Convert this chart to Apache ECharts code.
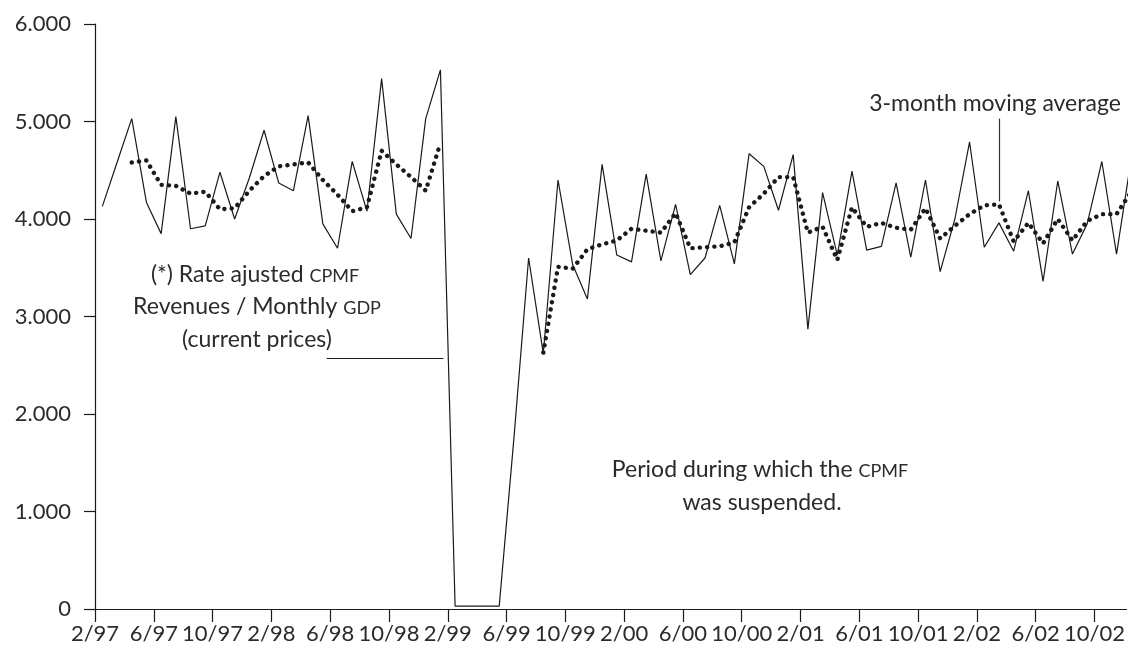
<!DOCTYPE html>
<html>
<head>
<meta charset="utf-8">
<script src="https://cdn.jsdelivr.net/npm/echarts@6/dist/echarts.min.js"></script>
<style>
  html, body { margin: 0; padding: 0; background: #fff; }
  #cpmfChart { width: 1128px; height: 653px; }
</style>
</head>
<body>
<div id="cpmfChart"></div>
<script type="text/javascript">
  // monthly values from 2/97 (index 0) to 12/02 (index 70)
  var ratio = [
    4.13, 4.58, 5.03, 4.17, 3.85, 5.05, 3.90, 3.93, 4.48, 4.00, 4.42, 4.91,
    4.37, 4.29, 5.06, 3.95, 3.70, 4.59, 4.08, 5.44, 4.05, 3.80, 5.03, 5.53,
    0.03, 0.03, 0.03, 0.03, 1.75, 3.60, 2.62, 4.40, 3.53, 3.18, 4.56, 3.63,
    3.56, 4.46, 3.57, 4.15, 3.43, 3.60, 4.14, 3.54, 4.67, 4.54, 4.09, 4.66,
    2.87, 4.27, 3.63, 4.49, 3.68, 3.72, 4.37, 3.61, 4.40, 3.46, 4.00, 4.79,
    3.71, 3.96, 3.67, 4.29, 3.36, 4.39, 3.64, 3.95, 4.59, 3.64, 4.62
  ];
  // 3-month moving average (null where not shown)
  var movingAvg = [
    null, null, 4.58, 4.60, 4.35, 4.34, 4.26, 4.28, 4.10, 4.11, 4.29, 4.44,
    4.54, 4.56, 4.58, 4.40, 4.25, 4.08, 4.12, 4.70, 4.56, 4.43, 4.29, 4.78,
    null, null, null, null, null, null, 2.63, 3.51, 3.49, 3.69, 3.74, 3.78,
    3.90, 3.88, 3.86, 4.06, 3.70, 3.71, 3.72, 3.76, 4.12, 4.26, 4.43, 4.43,
    3.86, 3.92, 3.58, 4.12, 3.92, 3.96, 3.91, 3.89, 4.11, 3.80, 3.93, 4.05,
    4.14, 4.15, 3.77, 3.96, 3.75, 4.00, 3.78, 3.98, 4.05, 4.05, 4.28
  ];
  var yTicks = [0, 1, 2, 3, 4, 5, 6];
  var firstMonth = 2, firstYear = 97;

  var FONT = 'Lato, "Open Sans", sans-serif';
  var TXT = '#2b2b2b';
  var INK = '#1a1a1a';

  function toPoints(arr) {
    // each month is drawn at the middle of its month slot
    return arr.map(function (v, i) { return [i + 0.5, v == null ? '-' : v]; });
  }
  function monthLabel(v) {
    if (Math.abs(v - Math.round(v)) > 1e-6 || Math.round(v) % 4 !== 0) return '';
    var m = firstMonth + Math.round(v) - 1;
    var yy = (firstYear + Math.floor(m / 12)) % 100;
    return (m % 12 + 1) + '/' + (yy < 10 ? '0' + yy : yy);
  }

  // normal text + small caps in one line
  var richStyle = {
    n: { fontSize: 23, fontFamily: FONT, fill: TXT, lineHeight: 28, verticalAlign: 'middle' },
    sc: { fontSize: 18, fontFamily: FONT, fill: TXT, lineHeight: 28, verticalAlign: 'middle', padding: [3, 0, 0, 0] }
  };
  function note(x, y, text) {
    return {
      type: 'text', x: x, y: y,
      style: { text: text, fill: TXT, font: '23px ' + FONT, align: 'center', verticalAlign: 'middle', rich: richStyle }
    };
  }

  var myChart = echarts.init(document.getElementById('cpmfChart'));
  var option = {
    animation: false,
    backgroundColor: '#fff',
    grid: { left: 95, right: 0, top: 24, bottom: 44 },
    xAxis: {
      type: 'value',
      min: 0,
      max: 70.18,
      interval: 4,
      splitLine: { show: false },
      axisLine: { lineStyle: { color: INK, width: 1.2 } },
      axisTick: { length: 13, lineStyle: { color: INK, width: 1.2 } },
      axisLabel: {
        margin: 14, color: TXT, fontFamily: FONT, fontSize: 22,
        showMaxLabel: false, formatter: monthLabel
      }
    },
    yAxis: {
      type: 'value',
      min: yTicks[0],
      max: yTicks[yTicks.length - 1],
      interval: 1,
      splitLine: { show: false },
      axisLine: { show: true, lineStyle: { color: INK, width: 1.2 } },
      axisTick: { show: true, length: 11, lineStyle: { color: INK, width: 1.2 } },
      axisLabel: {
        margin: 24, color: TXT, fontFamily: FONT, fontSize: 22,
        formatter: function (v) { return v === 0 ? '0' : v.toFixed(3); }
      }
    },
    series: [
      {
        name: 'ratio',
        type: 'line',
        data: toPoints(ratio),
        symbol: 'none',
        lineStyle: { color: INK, width: 1.2 },
        markLine: {
          silent: true,
          symbol: 'none',
          label: { show: false },
          lineStyle: { color: INK, width: 1.2, type: 'solid' },
          data: [[{ coord: [15.76, 2.57] }, { coord: [23.7, 2.57] }]]
        }
      },
      {
        name: '3-month moving average',
        type: 'line',
        data: toPoints(movingAvg),
        connectNulls: false,
        symbol: 'none',
        lineStyle: { color: INK, width: 4.4, type: [0.1, 7.2], cap: 'round' },
        markLine: {
          silent: true,
          symbol: 'none',
          label: { show: false },
          lineStyle: { color: '#333', width: 1.2, type: 'solid' },
          data: [[{ coord: [61.5, 4.18] }, { coord: [61.5, 5.03] }]]
        }
      }
    ],
    graphic: [
      note(255, 275, '{n|(*) Rate ajusted }{sc|CPMF}'),
      note(257, 307, '{n|Revenues / Monthly }{sc|GDP}'),
      note(257, 340, '{n|(current prices)}'),
      note(760, 470, '{n|Period during which the }{sc|CPMF}'),
      note(762, 503, '{n|was suspended.}'),
      note(995, 104, '{n|3-month moving average}')
    ]
  };
  myChart.setOption(option);
</script>
</body>
</html>
